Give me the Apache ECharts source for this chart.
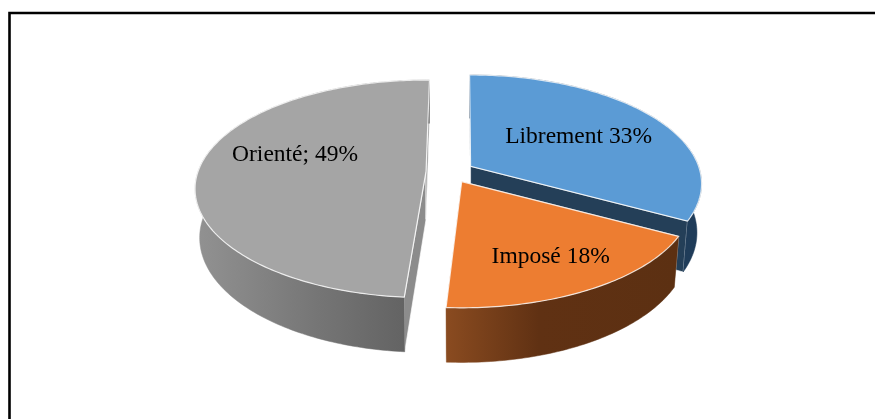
<!DOCTYPE html>
<html>
<head>
<meta charset="utf-8">
<style>html,body{margin:0;padding:0;background:#fff}#c{width:875px;height:419px}</style>
<script src="https://cdn.jsdelivr.net/npm/echarts@6/dist/echarts.min.js"></script>
</head>
<body>
<div id="c"></div>
<script>
const categories = ['Librement', 'Imposé', 'Orienté'];
const percentValues = [33, 18, 49];
const labelTexts = ['Librement 33%', 'Imposé 18%', 'Orienté; 49%'];

// Projection and styling of the tilted pie
const center = [450, 172], explode = [24, 11];
const radiusX = 228, radiusY = 106, perspective = 0.16, rotationDeg = -0.3;
const sliceTwistDeg = [0, 0, 1.3];
const depth = 48, floorScale = 0.98;
const labelOffset = [[108, -30], [89, 75], [-131, -17]];
const topColors = ['#5B9BD5', '#ED7D31', '#A5A5A5'];
const wallColors = ['#243F58', '#6B3817', '#8C8C8C'];
const sideStops = [
  [[0, '#1F3C59'], [1, '#1F3C59']],
  [[0, '#8A4B20'], [0.4, '#603113'], [1, '#5C3012']],
  [[0, '#929292'], [0.55, '#747474'], [1, '#5E5E5E']]
];
const edge = 'rgba(255,255,255,0.8)';

const total = percentValues.reduce((a, b) => a + b, 0);

function project(apex, theta, level) {
  const x = Math.sin(theta), y = -Math.cos(theta);
  const s = 1 / (1 - perspective * y);
  const k = level ? floorScale : 1;
  return [
    apex[0] + radiusX * x * s * k,
    apex[1] + radiusY * y * s * k + (level ? depth * s : 0)
  ];
}

function arc(apex, a0, a1, level) {
  const pts = [], n = Math.max(8, Math.ceil((a1 - a0) * 60));
  for (let i = 0; i <= n; i++) pts.push(project(apex, a0 + (a1 - a0) * i / n, level));
  return pts;
}

function wall(apex, theta) {
  const floorApex = [apex[0], apex[1] + depth];
  return [apex, project(apex, theta, 0), project(apex, theta, 1), floorApex];
}

function renderSlice(params, api) {
  const i = params.dataIndex;
  let before = 0;
  for (let j = 0; j < i; j++) before += percentValues[j];
  const rot = (rotationDeg + sliceTwistDeg[i]) * Math.PI / 180;
  const a0 = before / total * Math.PI * 2 + rot;
  const a1 = (before + api.value(0)) / total * Math.PI * 2 + rot;
  const mid = (a0 + a1) / 2;
  const apex = [center[0] + explode[0] * Math.sin(mid), center[1] - explode[1] * Math.cos(mid)];

  const topArc = arc(apex, a0, a1, 0);
  const floorArc = arc(apex, a0, a1, 1);
  const xs = topArc.map(p => p[0]);
  const grad = new echarts.graphic.LinearGradient(
    Math.min.apply(null, xs), 0, Math.max.apply(null, xs), 0,
    sideStops[i].map(s => ({ offset: s[0], color: s[1] })), true
  );
  const poly = (points, fill, stroke, lw) => ({
    type: 'polygon', shape: { points },
    style: { fill, stroke: stroke || fill, lineWidth: lw === undefined ? 0.5 : lw }
  });
  return {
    type: 'group',
    children: [
      poly(wall(apex, a0), wallColors[i], edge, 0.8),
      poly(wall(apex, a1), wallColors[i], edge, 0.8),
      poly(topArc.concat(floorArc.slice().reverse()), grad),
      poly([apex].concat(topArc), topColors[i], edge, 1.2),
      {
        type: 'text',
        style: {
          x: apex[0] + labelOffset[i][0],
          y: apex[1] + labelOffset[i][1],
          text: labelTexts[i],
          font: '23.5px "Liberation Serif"',
          fill: '#000',
          align: 'center',
          verticalAlign: 'middle'
        }
      }
    ]
  };
}

const chart = echarts.init(document.getElementById('c'), null, { renderer: 'canvas' });
chart.setOption({
  animation: false,
  backgroundColor: '#fff',
  graphic: [{
    type: 'rect',
    shape: { x: 9.5, y: 13, width: 900, height: 450 },
    style: { fill: 'transparent', stroke: '#000', lineWidth: 2.6 },
    silent: true
  }],
  series: [{
    type: 'custom',
    coordinateSystem: 'none',
    name: 'Répartition',
    renderItem: renderSlice,
    data: percentValues.map((v, i) => ({ name: categories[i], value: [v] }))
  }]
});
</script>
</body>
</html>
